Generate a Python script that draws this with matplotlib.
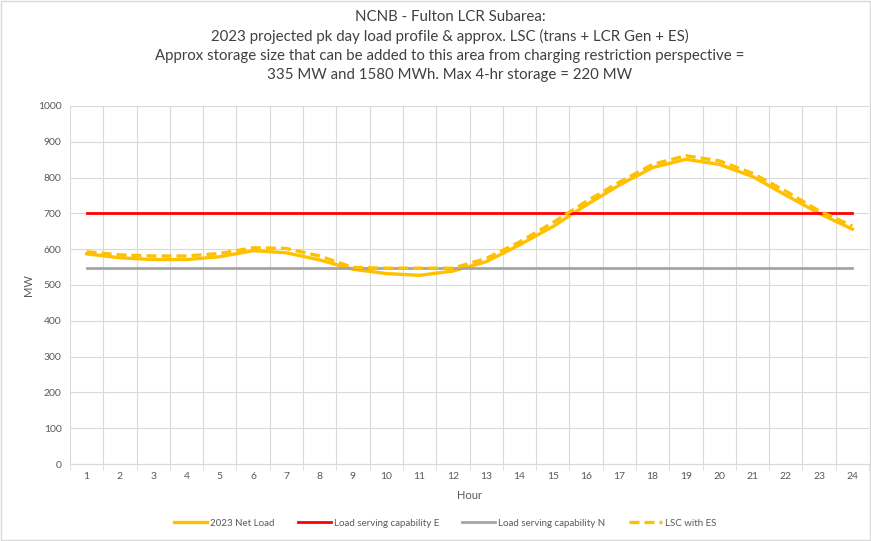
import matplotlib.pyplot as plt

hours = list(range(1, 25))
net_load = [587, 576, 571, 571, 579, 596, 590, 570, 544, 532, 527, 539,
            565, 612, 663, 723, 779, 828, 851, 837, 803, 751, 700, 656]
lsc_with_es = [593, 584, 581, 581, 588, 604, 602, 581, 549, 547, 547, 547,
               574, 620, 674, 733, 787, 837, 861, 847, 812, 762, 707, 665]
lsc_e = [700] * 24
lsc_n = [547] * 24

plt.rcParams['font.family'] = ['Lato', 'DejaVu Sans']

fig = plt.figure(figsize=(8.71, 5.41), dpi=100)
ax = fig.add_axes([70 / 871, 1 - 464 / 541, 799 / 871, 358 / 541])

ax.plot(hours, net_load, color="#FFC000", lw=2.4, label="2023 Net Load")
ax.plot(hours, lsc_e, color="#FF0000", lw=2.0, label="Load serving capability E")
ax.plot(hours, lsc_n, color="#A5A5A5", lw=2.0, label="Load serving capability N")
ax.plot(hours, lsc_with_es, color="#FFC000", lw=2.4, ls=(0, (3, 1.5)), label="LSC with ES")

ax.set_xlim(0.5, 24.5)
ax.set_ylim(0, 1000)
ax.set_yticks(range(0, 1001, 100))
ax.set_xticks(hours)
ax.set_xticks([h + 0.5 for h in range(0, 25)], minor=True)
ax.tick_params(axis="x", which="major", length=0, labelsize=7.5, colors="#595959", pad=6)
ax.tick_params(axis="x", which="minor", length=4, color="#D9D9D9")
ax.tick_params(axis="y", length=0, labelsize=7.5, colors="#595959", pad=6)
ax.grid(True, which="minor", axis="x", color="#D9D9D9", lw=0.8)
ax.grid(True, which="major", axis="y", color="#D9D9D9", lw=0.8)
ax.set_axisbelow(True)
for side in ["top", "right", "left"]:
    ax.spines[side].set_visible(False)
ax.spines["bottom"].set_color("#D9D9D9")

ax.set_xlabel("Hour", fontsize=8, color="#595959", labelpad=6)
ax.set_ylabel("MW", fontsize=8, color="#595959", labelpad=3)

title = ("NCNB - Fulton LCR Subarea:\n"
         "2023 projected pk day load profile & approx. LSC (trans + LCR Gen + ES)\n"
         "Approx storage size that can be added to this area from charging restriction perspective =\n"
         "335 MW and 1580 MWh. Max 4-hr storage = 220 MW")
fig.text(450 / 871, 1 - 10 / 541, title, ha="center", va="top", fontsize=10.8,
         color="#404040", linespacing=1.45)

fig.legend(loc="center", bbox_to_anchor=(445 / 871, 1 - 523 / 541), ncol=4,
           frameon=False, fontsize=7, labelcolor="#595959", handlelength=3.4,
           columnspacing=2.4, handletextpad=0.3)

fig.patches.append(plt.Rectangle((0.001, 0.001), 0.998, 0.998, transform=fig.transFigure,
                                 fill=False, edgecolor="#D9D9D9", lw=1))

fig.savefig("out.png", dpi=100)
